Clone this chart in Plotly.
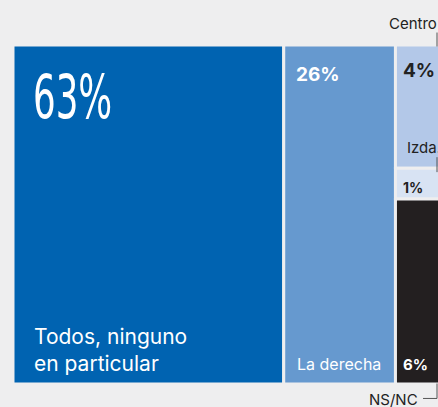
import plotly.graph_objects as go

# ---- data ----
categories = ["Todos, ninguno en particular", "La derecha", "Centro", "Izda.", "NS/NC"]
values = [63, 26, 4, 1, 6]
columns = [0, 1, 2, 2, 2]          # which column each block belongs to
labels = ["63%", "26%", "4%", "1%", "6%"]
colors = ["#0063b1", "#6699cf", "#b3c8e8", "#d8e3f3", "#231f20"]

BG = "#eeeeef"
W, H = 438, 407
ML, MT, MB, MR = 12.5, 44.5, 22.5, 0

col_tot = {}
for c, v in zip(columns, values):
    col_tot[c] = col_tot.get(c, 0) + v
col_left = {}
acc = 0
for c in sorted(col_tot):
    col_left[c] = acc
    acc += col_tot[c]

xs, ws, ys, bases = [], [], [], []
used = {}
for c, v in zip(columns, values):
    w = col_tot[c]
    xs.append(col_left[c] + w / 2)
    ws.append(w)
    h = 100 * v / col_tot[c]
    top = 100 - used.get(c, 0)
    bases.append(top - h)
    ys.append(h)
    used[c] = used.get(c, 0) + h

XMAX = 98.9

fig = go.Figure(go.Bar(
    x=xs, y=ys, base=bases, width=ws,
    marker=dict(color=colors, line=dict(color=BG, width=3)),
    hoverinfo="skip", showlegend=False,
))

pw = W - ML - MR
ph = H - MT - MB


def px(xp):
    return (xp - ML) / pw


def py(yp):
    return (H - MB - yp) / ph


ann = []


def add(text, x, y, size, color, family="Inter, sans-serif", yanchor="top", xanchor="left", bold=False):
    if bold:
        text = "<b>" + text + "</b>"
    ann.append(dict(text=text, x=px(x), y=py(y), xref="paper", yref="paper",
                    xanchor=xanchor, yanchor=yanchor, showarrow=False, align="left",
                    font=dict(size=size, color=color, family=family)))


add(labels[0], 31, 60, 60, "white", family="DejaVu Sans Condensed, sans-serif")
add(labels[1], 294, 61, 19, "white", bold=True)
add("Todos, ninguno<br>en particular", 32, 378, 21, "white", yanchor="bottom")
add(categories[1], 295, 376, 16, "white", yanchor="bottom")
add(labels[2], 401, 57, 19, "#222222", bold=True)
add(categories[3], 405, 136, 15, "#222222")
add(labels[3], 401, 177, 14, "#222222", bold=True)
add(labels[4], 401, 353, 15, "white", bold=True)
add(categories[2], 439, 11, 15, "#222222", xanchor="right")
add(categories[4], 420, 389, 15, "#222222", xanchor="right")

lc = "#555555"
shapes = [
    dict(type="line", xref="paper", yref="paper", x0=px(437), x1=px(437), y0=py(32), y1=py(46),
         line=dict(color=lc, width=1)),
    dict(type="line", xref="paper", yref="paper", x0=px(437), x1=px(437), y0=py(157), y1=py(172),
         line=dict(color=lc, width=1)),
    dict(type="line", xref="paper", yref="paper", x0=px(437), x1=px(437), y0=py(384), y1=py(399),
         line=dict(color=lc, width=1)),
    dict(type="line", xref="paper", yref="paper", x0=px(423), x1=px(437), y0=py(399), y1=py(399),
         line=dict(color=lc, width=1)),
]

fig.update_layout(
    width=W, height=H,
    margin=dict(l=ML, r=MR, t=MT, b=MB, pad=0, autoexpand=False),
    paper_bgcolor=BG, plot_bgcolor=BG,
    barmode="overlay",
    xaxis=dict(range=[0, XMAX], visible=False, fixedrange=True),
    yaxis=dict(range=[0, 100], visible=False, fixedrange=True),
    annotations=ann, shapes=shapes,
)

post = (
    "document.body.style.margin='0';document.body.style.background='" + BG + "';"
    "document.querySelectorAll('.annotation-text').forEach(function(t){"
    "if(t.textContent==='63%'){t.style.transformBox='fill-box';"
    "t.style.transformOrigin='left center';t.style.transform='scaleX(0.66)';}});"
)

fig.write_html("out.html", config={"displayModeBar": False}, post_script=post)
